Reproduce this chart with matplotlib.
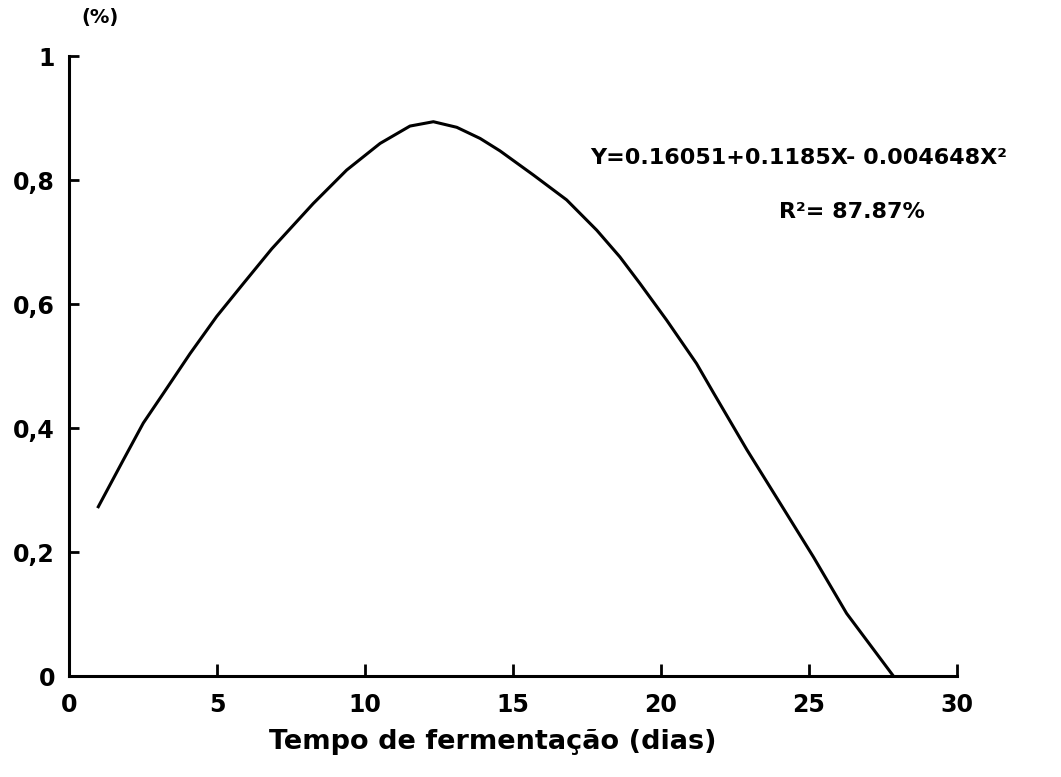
import matplotlib
matplotlib.use("Agg")
import matplotlib.pyplot as plt

# values
dias = [0.99, 1.83, 2.51, 3.19, 4.09, 4.99, 5.89, 6.85, 8.25, 9.38,
        10.51, 11.52, 12.31, 13.10, 13.89, 14.56, 15.69, 16.81, 17.83, 18.61,
        19.29, 20.19, 21.2, 21.77, 22.9, 24.02, 25.15, 26.27, 27.85]
teor = [0.273, 0.348, 0.408, 0.456, 0.520, 0.580, 0.633, 0.689, 0.762,
        0.816, 0.859, 0.887, 0.894, 0.885, 0.867, 0.847, 0.808, 0.768, 0.719,
        0.676, 0.633, 0.574, 0.504, 0.457, 0.365, 0.279, 0.192, 0.101, 0.0]

x_ticks = [0, 5, 10, 15, 20, 25, 30]
y_ticks = [0, 0.2, 0.4, 0.6, 0.8, 1]
y_tick_labels = ["0", "0,2", "0,4", "0,6", "0,8", "1"]

equacao = "Y=0.16051+0.1185X- 0.004648X\u00b2"
r2_texto = "R\u00b2= 87.87%"

plt.rcParams["font.family"] = ["DejaVu Sans"]
plt.rcParams["font.weight"] = "bold"

fig = plt.figure(figsize=(10.61, 7.77), dpi=100)
ax = fig.add_axes([69 / 1061, 1 - 676 / 777, 888 / 1061, 620 / 777])

ax.plot(dias, teor, color="black", linewidth=2.2, solid_joinstyle="round")

ax.set_xlim(0, 30)
ax.set_ylim(0, 1)
ax.set_xticks(x_ticks)
ax.set_xticklabels([str(t) for t in x_ticks], fontsize=17, fontweight="bold")
ax.set_yticks(y_ticks)
ax.set_yticklabels(y_tick_labels, fontsize=17, fontweight="bold")
ax.tick_params(axis="x", direction="in", length=9, width=2, pad=12)
ax.tick_params(axis="y", direction="in", length=7, width=2, pad=10)

for side in ["top", "right"]:
    ax.spines[side].set_visible(False)
for side in ["left", "bottom"]:
    ax.spines[side].set_linewidth(2.2)

ax.set_xlabel("Tempo de fermentação (dias)", fontsize=19.5, fontweight="bold")
ax.xaxis.set_label_coords(0.477, -0.085)

ax.text(0.035, 1.062, "(%)", transform=ax.transAxes, fontsize=14,
        fontweight="bold", ha="center", va="center")

ax.text(17.6, 0.835, equacao, fontsize=16, fontweight="bold",
        ha="left", va="center")
ax.text(24.0, 0.748, r2_texto, fontsize=16, fontweight="bold",
        ha="left", va="center")

fig.savefig("out.png", dpi=100)
